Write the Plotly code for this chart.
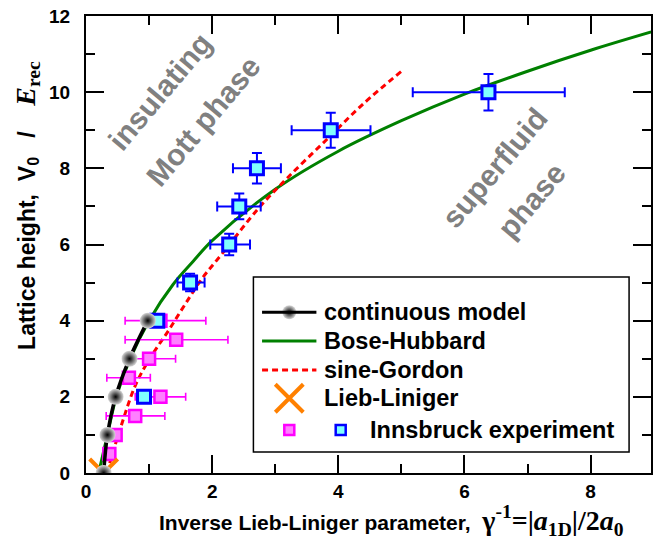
import plotly.graph_objects as go

# ---------------- data ----------------
cm_x = [0.28, 0.34, 0.47, 0.69, 0.98]
cm_y = [0, 1, 2, 3, 4]

bh_x = [0.20, 0.34, 0.48, 0.70, 1.00, 1.38, 1.70, 2.00, 3.00, 4.00, 5.00, 6.00, 7.00, 8.00, 8.96]
bh_y = [0.0, 1.0, 2.0, 3.0, 4.0, 4.95, 5.56, 6.10, 7.45, 8.45, 9.25, 9.95, 10.55, 11.10, 11.58]

sg_x = [0.33, 0.55, 0.79, 1.04, 1.30, 1.56, 1.85, 2.16, 2.75, 3.20, 3.83, 4.40, 5.01]
sg_y = [0.0, 1.2, 2.33, 3.08, 3.72, 4.40, 5.13, 5.76, 6.98, 7.76, 8.78, 9.70, 10.56]

ll_x = [0.28]
ll_y = [0.0]

mg_x = [0.37, 0.47, 0.78, 1.18, 0.68, 1.00, 1.43, 1.18]
mg_y = [0.5, 1.0, 1.5, 2.0, 2.5, 3.0, 3.5, 4.0]
mg_xerr_plus = [0, 0, 0.47, 0.40, 0.34, 0.42, 0.82, 0.72]
mg_xerr_minus = [0, 0, 0.46, 0.40, 0.35, 0.38, 0.81, 0.56]

bl_x = [0.92, 1.13, 1.65, 2.27, 2.43, 2.71, 3.88, 6.38]
bl_y = [2, 4, 5, 6, 7, 8, 9, 10]
bl_xerr_minus = [0, 0, 0.20, 0.30, 0.35, 0.38, 0.62, 1.20]
bl_xerr_plus = [0, 0, 0.23, 0.33, 0.34, 0.38, 0.63, 1.21]
bl_yerr = [0, 0, 0.23, 0.28, 0.34, 0.40, 0.46, 0.48]

legend_labels = ["continuous model", "Bose-Hubbard", "sine-Gordon", "Lieb-Liniger", "Innsbruck experiment"]

# ---------------- styles ----------------
BLACK = "#000000"
GREEN = "#008000"
RED = "#ff0000"
ORANGE = "#ff8000"
MAG_EDGE = "#ff00ff"
MAG_FILL = "#ff80ff"
BLUE_EDGE = "#0000ff"
BLUE_FILL = "#80ffff"
GRAY = "#808080"
FONT = "Liberation Sans"

sphere = dict(symbol="circle", size=16, color="#d8d8d8",
              gradient=dict(type="radial", color="#000000"),
              line=dict(width=0))
mag_marker = dict(symbol="square", size=12, color=MAG_FILL, line=dict(color=MAG_EDGE, width=2.5))
blue_marker = dict(symbol="square", size=13, color=BLUE_FILL, line=dict(color=BLUE_EDGE, width=3))
x_marker = dict(symbol="x-thin", size=28, color=ORANGE, line=dict(color=ORANGE, width=4))

fig = go.Figure()

fig.add_trace(go.Scatter(x=bh_x, y=bh_y, mode="lines", line=dict(color=GREEN, width=3, shape="spline"),
                         showlegend=False))
fig.add_trace(go.Scatter(x=sg_x, y=sg_y, mode="lines",
                         line=dict(color=RED, width=3, dash="6px,4px", shape="spline"),
                         showlegend=False))
fig.add_trace(go.Scatter(x=mg_x, y=mg_y, mode="markers", marker=mag_marker,
                         error_x=dict(type="data", symmetric=False, array=mg_xerr_plus,
                                      arrayminus=mg_xerr_minus, color=MAG_EDGE, thickness=1.6, width=4),
                         showlegend=False))
fig.add_trace(go.Scatter(x=bl_x, y=bl_y, mode="markers", marker=blue_marker,
                         error_x=dict(type="data", symmetric=False, array=bl_xerr_plus,
                                      arrayminus=bl_xerr_minus, color=BLUE_EDGE, thickness=2, width=5),
                         error_y=dict(type="data", array=bl_yerr, color=BLUE_EDGE, thickness=2, width=5),
                         showlegend=False))
fig.add_trace(go.Scatter(x=ll_x, y=ll_y, mode="markers", marker=x_marker, showlegend=False))
fig.add_trace(go.Scatter(x=cm_x, y=cm_y, mode="lines+markers",
                         line=dict(color=BLACK, width=3.5, shape="spline"), marker=sphere,
                         showlegend=False))

# ---------------- hand-made legend (paper coordinates) ----------------
LX0, LX1, LY0, LY1 = 0.2963, 0.9612, 0.046, 0.4289
row_y = [0.3516, 0.2888, 0.2254, 0.1635, 0.0941]
sample_x0, sample_x1, sample_xc = 0.3116, 0.4078, 0.3598
text_x = 0.4185
text_x_last = 0.4997
blue_leg_x = 0.4508

shapes = [
    dict(type="rect", xref="paper", yref="paper", x0=LX0, x1=LX1, y0=LY0, y1=LY1,
         line=dict(color=BLACK, width=1.5), fillcolor="white", layer="below"),
    dict(type="line", xref="paper", yref="paper", x0=sample_x0, x1=sample_x1, y0=row_y[0], y1=row_y[0],
         line=dict(color=BLACK, width=3)),
    dict(type="line", xref="paper", yref="paper", x0=sample_x0, x1=sample_x1, y0=row_y[1], y1=row_y[1],
         line=dict(color=GREEN, width=3)),
    dict(type="line", xref="paper", yref="paper", x0=sample_x0, x1=sample_x1, y0=row_y[2], y1=row_y[2],
         line=dict(color=RED, width=3, dash="6px,4px")),
]

fig.add_trace(go.Scatter(x=[sample_xc], y=[row_y[0]], xaxis="x2", yaxis="y2", mode="markers",
                         marker=dict(sphere, size=14), cliponaxis=False, showlegend=False))
fig.add_trace(go.Scatter(x=[sample_xc], y=[row_y[3]], xaxis="x2", yaxis="y2", mode="markers",
                         marker=x_marker, cliponaxis=False, showlegend=False))
fig.add_trace(go.Scatter(x=[sample_xc], y=[row_y[4]], xaxis="x2", yaxis="y2", mode="markers",
                         marker=dict(symbol="square", size=10, color=MAG_FILL, line=dict(color=MAG_EDGE, width=2.5)),
                         cliponaxis=False, showlegend=False))
fig.add_trace(go.Scatter(x=[blue_leg_x], y=[row_y[4]], xaxis="x2", yaxis="y2", mode="markers",
                         marker=dict(symbol="square", size=10, color=BLUE_FILL, line=dict(color=BLUE_EDGE, width=2.5)),
                         cliponaxis=False, showlegend=False))

annotations = []
for i, lab in enumerate(legend_labels):
    annotations.append(dict(xref="paper", yref="paper", x=text_x if i < 4 else text_x_last, y=row_y[i],
                            text=lab, showarrow=False, xanchor="left", yanchor="middle",
                            font=dict(family=FONT, size=23.5, color=BLACK, weight="bold")))

# phase labels
phase_font = dict(family=FONT, size=30, color=GRAY, weight="bold")
for txt, px, py in [("insulating", 1.17, 10.02), ("Mott phase", 1.85, 9.24),
                    ("superfluid", 6.48, 8.02), ("phase", 7.06, 7.16)]:
    annotations.append(dict(x=px, y=py, xref="x", yref="y", text=txt, showarrow=False,
                            textangle=-50, font=phase_font))

# axis titles
xtitle = ("Inverse Lieb-Liniger parameter,\u00a0 "
          "<span style=\"font-family:'Liberation Serif';font-size:28px\">\u03b3<sup>-1</sup>=|<i>a</i>"
          "<sub>1D</sub>|/2<i>a</i><sub>0</sub></span>")
ytitle = ("Lattice height,\u00a0\u00a0V<sub>0</sub>\u00a0\u00a0\u00a0/\u00a0\u00a0\u00a0\u00a0"
          "<span style=\"font-family:'Liberation Serif';font-size:28px\"><i>E</i><sub>rec</sub></span>")
annotations.append(dict(xref="paper", yref="paper", x=0.540, y=-0.105, text=xtitle, showarrow=False,
                        xanchor="center", yanchor="middle",
                        font=dict(family=FONT, size=21, color=BLACK, weight="bold")))
annotations.append(dict(xref="paper", yref="paper", x=-0.104, y=0.585, text=ytitle, showarrow=False,
                        textangle=-90, xanchor="center", yanchor="middle",
                        font=dict(family=FONT, size=23, color=BLACK, weight="bold")))

axis_common = dict(showline=True, linewidth=2, linecolor=BLACK, mirror="ticks",
                   ticks="inside", ticklen=18, tickwidth=2, tickcolor=BLACK,
                   showgrid=False, zeroline=False,
                   tickfont=dict(family=FONT, size=19, color=BLACK, weight="bold"),
                   minor=dict(ticks="inside", ticklen=9, tickwidth=2, tickcolor=BLACK, dtick=1, showgrid=False))

fig.update_layout(
    width=653, height=539,
    margin=dict(l=86, r=0, t=16, b=66),
    plot_bgcolor="white", paper_bgcolor="white",
    showlegend=False,
    xaxis=dict(range=[0, 8.957], dtick=2, tick0=0, ticklabelstandoff=0, **axis_common),
    yaxis=dict(range=[0, 12], dtick=2, tick0=0, ticklabelstandoff=10, **axis_common),
    xaxis2=dict(overlaying="x", range=[0, 1], visible=False),
    yaxis2=dict(overlaying="y", range=[0, 1], visible=False),
    shapes=shapes,
    annotations=annotations,
)

fig.write_html("out.html")
